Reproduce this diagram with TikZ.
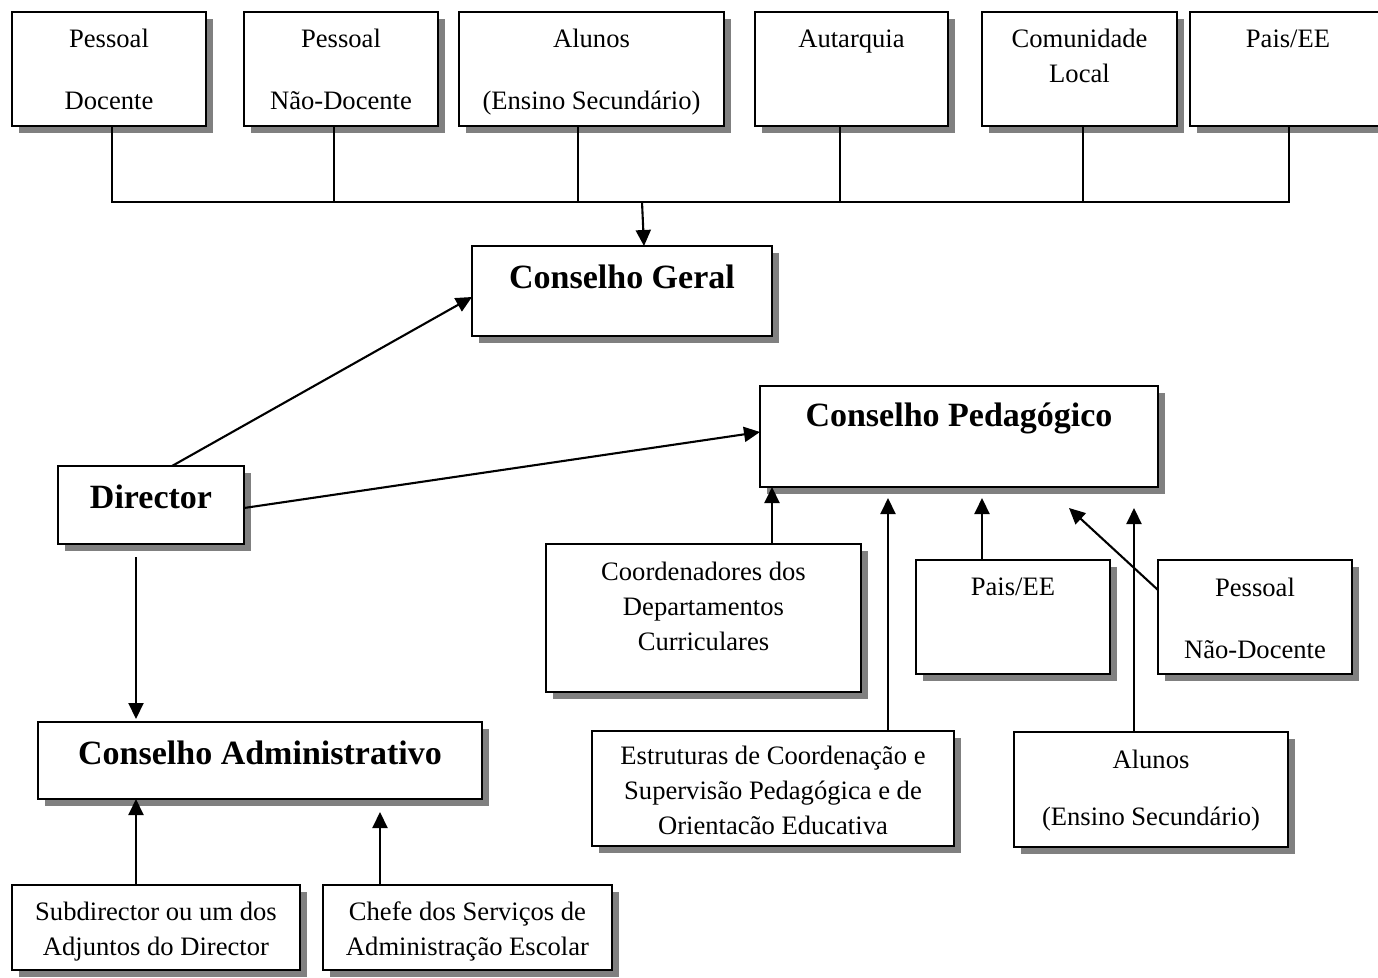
\documentclass[tikz,border=0pt]{standalone}
\usepackage{fontspec}
\setmainfont{Liberation Serif}
\usetikzlibrary{arrows.meta,shadows}
\definecolor{shgray}{HTML}{808080}
\newcommand{\bxt}[4]{\parbox[c][#2pt][t]{#1pt}{\centering\vspace*{#3pt}#4\par}}
\newcommand{\nf}{\fontsize{26.6}{35}\selectfont}
\newcommand{\tf}{\fontsize{34}{40}\selectfont\bfseries}
\begin{document}
\begin{tikzpicture}[x=1pt,y=-1pt,
 box/.style={draw, line width=2.1pt, fill=white, inner sep=0pt, outer sep=0pt, anchor=north west,
   drop shadow={shadow xshift=6.5pt, shadow yshift=-6.5pt, fill=shgray, opacity=1}},
 tree/.style={line width=1.7pt},
 arr/.style={line width=2.1pt, -{Triangle[length=16pt,width=15pt]}}]
\useasboundingbox (0,0) rectangle (1378,977);

% top row
\node[box] (t1) at (12,12) {\nf\bxt{194}{114}{11}{\strut Pessoal\\[27pt]\strut Docente}};
\node[box] (t2) at (244,12) {\nf\bxt{194}{114}{11}{\strut Pessoal\\[27pt]\strut Não-Docente}};
\node[box] (t3) at (459,12) {\nf\bxt{265}{114}{11}{\strut Alunos\\[27pt]\strut (Ensino Secundário)}};
\node[box] (t4) at (755,12) {\nf\bxt{193}{114}{11}{\strut Autarquia}};
\node[box] (t5) at (982,12) {\nf\bxt{195}{114}{11}{\strut Comunidade\\\strut Local}};
\node[box] (t6) at (1190,12) {\nf\bxt{196}{114}{11}{\strut Pais/EE}};

\coordinate (bus) at (642,202);
\draw[tree] ([xshift=100pt]t1.south west) |- (bus);
\draw[tree] ([xshift=90pt]t2.south west) |- (bus);
\draw[tree] ([xshift=119pt]t3.south west) |- (bus);
\draw[tree] ([xshift=85pt]t4.south west) |- (bus);
\draw[tree] ([xshift=101pt]t5.south west) |- (bus);
\draw[tree] ([xshift=99pt]t6.south west) |- (bus);

% main boxes
\node[box] (cg) at (472,246) {\tf\bxt{300}{90}{14}{\strut Conselho Geral}};
\node[box] (cp) at (760,386) {\tf\bxt{398}{101}{12}{\strut Conselho Pedagógico}};
\node[box] (dir) at (58,466) {\tf\bxt{186}{78}{14}{\strut Director}};
\node[box] (ca) at (38,722) {\tf\bxt{444}{77}{14}{\strut Conselho Administrativo}};

% lower boxes
\node[box] (coord) at (546,544) {\nf\bxt{315}{148}{12}{\strut Coordenadores dos\\\strut Departamentos\\\strut Curriculares}};
\node[box] (pais) at (916,560) {\nf\bxt{194}{114}{11}{\strut Pais/EE}};
\node[box] (pnd) at (1158,560) {\nf\bxt{194}{114}{12}{\strut Pessoal\\[27pt]\strut Não-Docente}};
\node[box] (est) at (592,731) {\nf\bxt{362}{115}{9}{\strut Estruturas de Coordenação e\\\strut Supervisão Pedagógica e de\\\strut Orientacão Educativa}};
\node[box] (alu) at (1014,732) {\nf\bxt{274}{115}{12}{\strut Alunos\\[22pt]\strut (Ensino Secundário)}};
\node[box] (sub) at (12,885) {\nf\bxt{288}{85}{11}{\strut Subdirector ou um dos\\\strut Adjuntos do Director}};
\node[box] (chefe) at (323,885) {\nf\bxt{289}{85}{11}{\strut Chefe dos Serviços de\\\strut Administração Escolar}};

% arrows
\draw[arr] (bus) -- ([xshift=172pt]cg.north west);
\draw[arr] ([xshift=114pt]dir.north west) -- ([yshift=-51pt]cg.north west);
\draw[arr] ([yshift=-42pt]dir.north east) -- ([yshift=-46pt]cp.north west);
\draw[arr] ([xshift=78pt,yshift=-13pt]dir.south west) -- ([xshift=98pt,yshift=3pt]ca.north west);
\draw[arr] ([xshift=124pt]sub.north west) -- ([xshift=98pt]ca.south west);
\draw[arr] ([xshift=57pt]chefe.north west) -- ([xshift=342pt,yshift=-13pt]ca.south west);
\draw[arr] ([xshift=226pt]coord.north west) -- ([xshift=12pt]cp.south west);
\draw[arr] ([xshift=296pt]est.north west) -- ([xshift=128pt,yshift=-11pt]cp.south west);
\draw[arr] ([xshift=66pt]pais.north west) -- ([xshift=222pt,yshift=-11pt]cp.south west);
\draw[arr] ([yshift=-30pt]pnd.north west) -- ([xshift=309pt,yshift=-21pt]cp.south west);
\draw[arr] ([xshift=120pt]alu.north west) -- ([xshift=374pt,yshift=-21pt]cp.south west);
\end{tikzpicture}
\end{document}
